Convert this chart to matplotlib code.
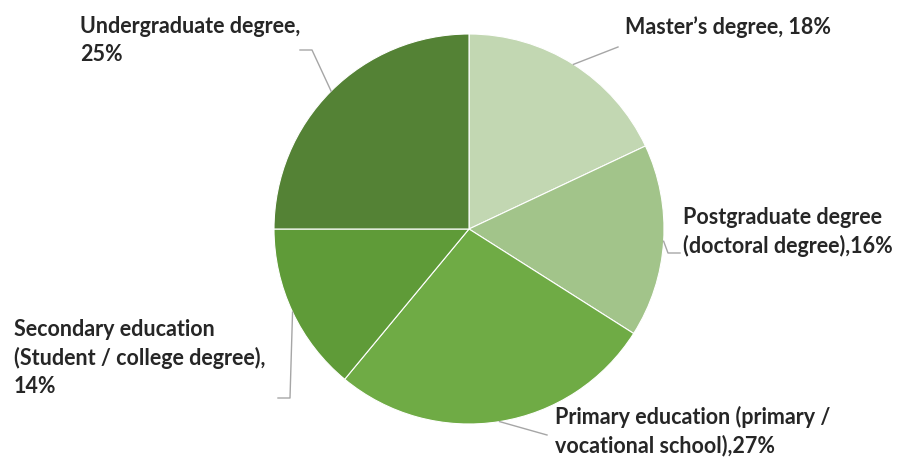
import numpy as np
import matplotlib.pyplot as plt

# share of respondents by education level (clockwise from 12 o'clock)
labels = ["Master’s degree, {}%",
          "Postgraduate degree\n(doctoral degree),{}%",
          "Primary education (primary /\nvocational school),{}%",
          "Secondary education\n(Student / college degree),\n{}%",
          "Undergraduate degree,\n{}%"]
values = [18, 16, 27, 14, 25]
colors = ["#c2d7b2", "#a2c48a", "#6fab45", "#5f9b38", "#548235"]

# label layout: text top-left corner and the elbow of each leader line (pixels, y down)
text_pos = [(625, 16), (683, 207), (555, 406), (14, 319), (80, 16)]
elbows = [[(618, 47)], [(668, 253), (680, 253)], [(547, 435)],
          [(290, 398), (278, 398)], [(312, 50), (300, 50)]]

W, H = 900, 457
cx, cy, r = 469, 229, 195

fig = plt.figure(figsize=(9, 4.57), dpi=100)
ax = fig.add_axes([0, 0, 1, 1])

ax.pie(values, colors=colors, startangle=90, counterclock=False,
       center=(cx, H - cy), radius=r,
       wedgeprops=dict(edgecolor="white", linewidth=0.8))

# pie() resets the limits, so set the pixel frame afterwards
ax.set_xlim(0, W)
ax.set_ylim(0, H)
ax.set_aspect("equal")
ax.axis("off")

total = sum(values)
start = 0.0
for lab, v, (tx, ty), elb in zip(labels, values, text_pos, elbows):
    mid = np.deg2rad((start + v / 2) / total * 360)
    start += v
    # leader line from the rim at the wedge's mid angle out to the label
    px = cx + r * np.sin(mid)
    py = cy - r * np.cos(mid)
    xs = [px] + [e[0] for e in elb]
    ys = [H - py] + [H - e[1] for e in elb]
    ax.plot(xs, ys, color="#a6a6a6", lw=1)
    ax.text(tx, H - ty, lab.format(v), ha="left", va="top",
            fontsize=15.5, fontweight="bold", family="Lato",
            color="#262626", linespacing=1.4)

fig.savefig("out.png", dpi=100, facecolor="white")
